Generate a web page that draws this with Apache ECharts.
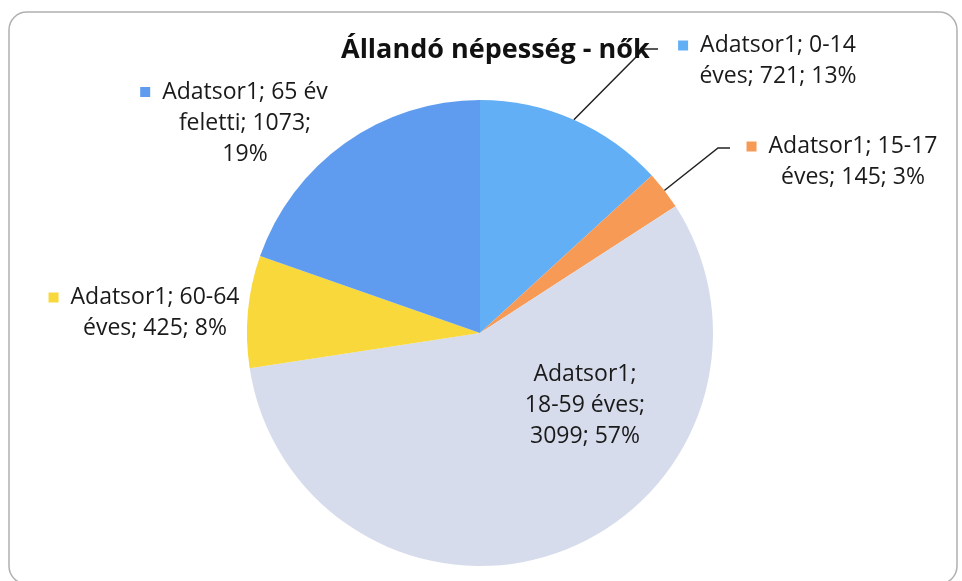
<!DOCTYPE html>
<html style="height: 100%">

<head>
    <meta charset="utf-8">
    <script src="https://cdn.jsdelivr.net/npm/echarts@6/dist/echarts.min.js"></script>
</head>

<body style="height: 100%; margin: 0; background: #fff">
    <div id="chart" style="width: 962px; height: 581px"></div>
    <script type="text/javascript">
        var seriesName = 'Adatsor1';
        var categories = ['0-14 éves', '15-17 éves', '18-59 éves', '60-64 éves', '65 év feletti'];
        var values = [721, 145, 3099, 425, 1073];
        var colors = ['#62aff5', '#f79a55', '#d6dcec', '#f8d83a', '#5f9cf0'];

        // label text centres and elbow points (layout only)
        var labelPos = [[778, 61], [853, 162], [585, 405], [155, 313], [245, 123]];
        var elbows = [[[644, 49], [658, 49]], [[718, 148], [730, 148]], null, null, null];

        // where each label text wraps
        function labelText(p) {
            var parts = [p.seriesName + ';'].concat(p.name.split(' ')).concat([p.value + ';', p.percent + '%']);
            var lines;
            if (p.dataIndex === 2) {
                lines = [parts[0], parts[1] + ' ' + parts[2] + ';', parts[3] + ' ' + parts[4]];
            } else if (p.dataIndex === 4) {
                lines = [parts[0] + ' ' + parts[1] + ' ' + parts[2], parts[3] + '; ' + parts[4], parts[5]];
            } else {
                lines = [parts[0] + ' ' + parts[1], parts[2] + '; ' + parts[3] + ' ' + parts[4]];
            }
            // square marker hangs left of the centred text
            if (p.dataIndex !== 2) lines[0] = '{m' + p.dataIndex + '|}{g|}' + lines[0] + '{g|}{s|}';
            return lines.join('\n');
        }

        var rich = { g: { width: 12 }, s: { width: 10 } };
        colors.forEach(function (c, i) {
            rich['m' + i] = { width: 10, height: 10, backgroundColor: c };
        });

        var myChart = echarts.init(document.getElementById('chart'));
        myChart.setOption({
            backgroundColor: '#fff',
            animation: false,
            title: {
                text: 'Állandó népesség - nők',
                left: 336,
                top: 32,
                textStyle: { fontFamily: 'Open Sans', fontWeight: 'bold', fontSize: 27, color: '#111' }
            },
            graphic: [{
                type: 'rect',
                shape: { x: 9, y: 12, width: 948, height: 572, r: 18 },
                style: { fill: 'none', stroke: '#b0b0b0', lineWidth: 1.5 },
                z: -1
            }],
            series: [{
                type: 'pie',
                name: seriesName,
                center: [480, 333],
                radius: 233,
                startAngle: 90,
                clockwise: true,
                percentPrecision: 0,
                avoidLabelOverlap: false,
                itemStyle: { borderWidth: 0 },
                label: {
                    show: true,
                    position: 'outside',
                    formatter: labelText,
                    fontFamily: 'Open Sans',
                    fontSize: 23,
                    lineHeight: 31,
                    color: '#1a1a1a',
                    align: 'center',
                    rich: rich
                },
                labelLine: {
                    show: true,
                    lineStyle: { color: '#222', width: 1.5 }
                },
                labelLayout: function (p) {
                    var pos = labelPos[p.dataIndex];
                    var out = { x: pos[0], y: pos[1], align: 'center', verticalAlign: 'middle' };
                    var e = elbows[p.dataIndex];
                    if (e && p.labelLinePoints) {
                        out.labelLinePoints = [p.labelLinePoints[0], e[0], e[1]];
                    }
                    return out;
                },
                data: values.map(function (v, i) {
                    var d = { name: categories[i], value: v, itemStyle: { color: colors[i] } };
                    if (!elbows[i]) d.labelLine = { show: false };
                    if (i === 2) d.label = { position: 'inside' };
                    return d;
                })
            }]
        });
    </script>
</body>

</html>
